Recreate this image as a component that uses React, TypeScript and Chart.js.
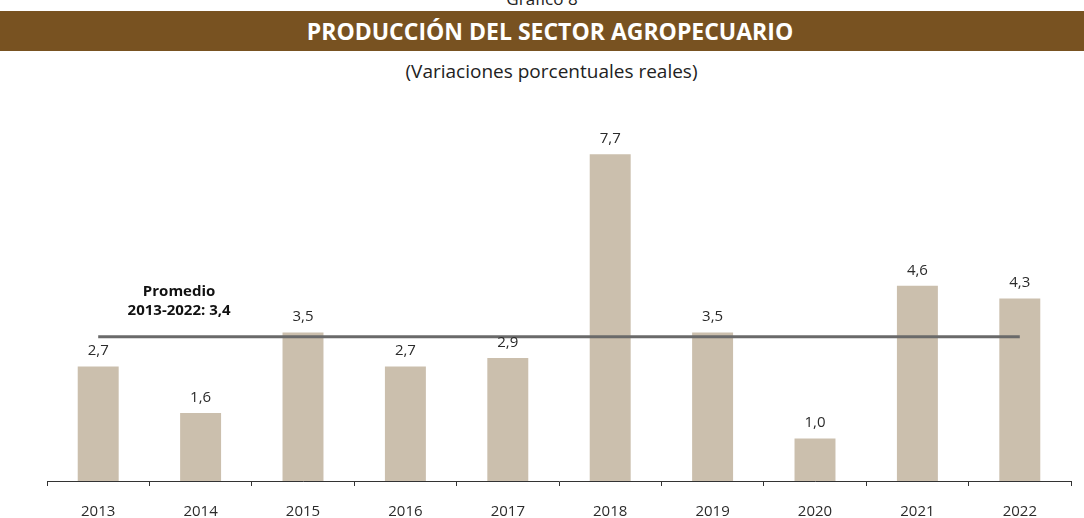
import React, { useEffect, useRef } from "react";
import { Chart, registerables } from "chart.js";

Chart.register(...registerables);

const years = ["2013", "2014", "2015", "2016", "2017", "2018", "2019", "2020", "2021", "2022"];
const growth = [2.7, 1.6, 3.5, 2.7, 2.9, 7.7, 3.5, 1.0, 4.6, 4.3];
const average = 3.4;
const averageLabel = ["Promedio", "2013-2022: 3,4"];

const FONT = "'Open Sans', 'Noto Sans', sans-serif";

const labelsPlugin = {
  id: "valueLabels",
  afterDatasetsDraw(chart: any) {
    const ctx = chart.ctx;
    const meta = chart.getDatasetMeta(0);
    ctx.save();
    ctx.font = `15px ${FONT}`;
    ctx.fillStyle = "#2b2b2b";
    ctx.textAlign = "center";
    ctx.textBaseline = "bottom";
    meta.data.forEach((bar: any, i: number) => {
      ctx.fillText(growth[i].toFixed(1).replace(".", ","), bar.x, bar.y - 8);
    });
    const xs = chart.scales.x;
    const ys = chart.scales.y;
    const x0 = xs.getPixelForValue(0);
    const x1 = xs.getPixelForValue(1);
    const cx = x0 + (x1 - x0) * 0.79;
    const yAvg = ys.getPixelForValue(average);
    ctx.font = `bold 15px ${FONT}`;
    ctx.fillStyle = "#111";
    ctx.textBaseline = "middle";
    ctx.fillText(averageLabel[0], cx, yAvg - 45);
    ctx.fillText(averageLabel[1], cx, yAvg - 26);
    ctx.restore();
  },
};

export default function App() {
  const ref = useRef<HTMLCanvasElement>(null);
  useEffect(() => {
    const chart = new Chart(ref.current!, {
      type: "bar",
      data: {
        labels: years,
        datasets: [
          {
            type: "bar",
            data: growth,
            backgroundColor: "#cbbfad",
            barPercentage: 0.8,
            categoryPercentage: 0.5,
            order: 2,
          } as any,
          {
            type: "line",
            data: years.map(() => average),
            borderColor: "#6a6a6a",
            borderWidth: 3,
            pointRadius: 0,
            order: 1,
          } as any,
        ],
      },
      options: {
        animation: false,
        responsive: false,
        maintainAspectRatio: false,
        layout: { padding: { left: 47, right: 13, top: 11, bottom: 0 } },
        plugins: { legend: { display: false }, tooltip: { enabled: false } },
        scales: {
          x: {
            grid: {
              display: true,
              drawOnChartArea: false,
              drawTicks: true,
              tickLength: 5,
              color: "#333",
            },
            border: { display: true, color: "#333", width: 1 },
            ticks: {
              color: "#2b2b2b",
              font: { family: FONT, size: 15 },
              padding: 17,
            },
          },
          y: {
            display: false,
            min: 0,
            max: 9,
          },
        },
      },
      plugins: [labelsPlugin],
    });
    return () => chart.destroy();
  }, []);

  return (
    <div
      style={{
        position: "fixed",
        left: 0,
        top: 0,
        width: 1084,
        height: 518,
        background: "#fff",
        overflow: "hidden",
        fontFamily: FONT,
      }}
    >
      <div
        style={{
          position: "absolute",
          left: 0,
          width: 1084,
          top: -13,
          textAlign: "center",
          fontSize: 17,
          color: "#222",
          boxSizing: "border-box",
        }}
      >
        Gráfico 8
      </div>
      <div
        style={{
          position: "absolute",
          left: 0,
          top: 11,
          width: 1084,
          height: 40,
          background: "#785221",
          color: "#fff",
          fontWeight: "bold",
          fontSize: 23,
          lineHeight: "40px",
          textAlign: "center",
          paddingLeft: 16,
          boxSizing: "border-box",
        }}
      >
        PRODUCCIÓN DEL SECTOR AGROPECUARIO
      </div>
      <div
        style={{
          position: "absolute",
          left: 0,
          top: 58,
          width: 1084,
          textAlign: "center",
          fontSize: 19,
          lineHeight: "26px",
          color: "#222",
          paddingLeft: 19,
          boxSizing: "border-box",
        }}
      >
        (Variaciones porcentuales reales)
      </div>
      <canvas
        ref={ref}
        width={1084}
        height={450}
        style={{ position: "absolute", left: 0, top: 88, width: 1084, height: 450 }}
      />
    </div>
  );
}
